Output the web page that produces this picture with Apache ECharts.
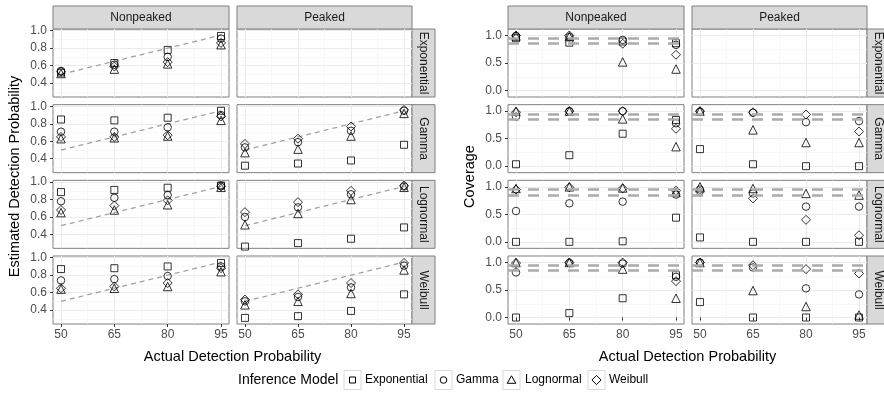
<!DOCTYPE html>
<html><head><meta charset="utf-8">
<script src="https://cdn.jsdelivr.net/npm/echarts@6/dist/echarts.min.js"></script>
<style>html,body{margin:0;padding:0;background:#fff}#c{width:884px;height:401px}</style>
</head><body><div id="c"></div>
<script>
// ---------- data ----------
const xValues = [50, 65, 80, 95];
const inferenceModels = ['Exponential', 'Gamma', 'Lognormal', 'Weibull'];
const columnLabels = ['Nonpeaked', 'Peaked'];
const rowLabels = ['Exponential', 'Gamma', 'Lognormal', 'Weibull'];
const estTicks = [0.4, 0.6, 0.8, 1.0];
const estMinorTicks = [0.3, 0.5, 0.7, 0.9];
const covTicks = [0, 0.5, 1.0];
const covMinorTicks = [0.25, 0.75];
const xMinorTicks = [57.5, 72.5, 87.5];
const identityLine = [[50, 0.5], [95, 0.95]];
const coverageRefLines = [0.95, 0.85];

// Estimated detection probability; rows = inference model (Exponential, Gamma, Lognormal, Weibull)
const est_Nonpeaked_Exponential = [
  [0.52, 0.63, 0.78, 0.94],
  [0.54, 0.61, 0.70, 0.91],
  [0.51, 0.56, 0.62, 0.84],
  [0.53, 0.59, 0.64, 0.86]
];
const est_Nonpeaked_Gamma = [
  [0.85, 0.84, 0.87, 0.95],
  [0.71, 0.71, 0.76, 0.90],
  [0.63, 0.64, 0.66, 0.84],
  [0.65, 0.65, 0.67, 0.885]
];
const est_Nonpeaked_Lognormal = [
  [0.885, 0.91, 0.935, 0.96],
  [0.78, 0.82, 0.85, 0.96],
  [0.65, 0.68, 0.74, 0.94],
  [0.68, 0.73, 0.79, 0.95]
];
const est_Nonpeaked_Weibull = [
  [0.87, 0.88, 0.90, 0.94],
  [0.74, 0.755, 0.79, 0.90],
  [0.64, 0.65, 0.67, 0.84],
  [0.65, 0.67, 0.71, 0.88]
];
const est_Peaked_Gamma = [
  [0.32, 0.345, 0.38, 0.56],
  [0.53, 0.59, 0.72, 0.95],
  [0.47, 0.51, 0.66, 0.92],
  [0.57, 0.63, 0.77, 0.96]
];
const est_Peaked_Lognormal = [
  [0.26, 0.30, 0.35, 0.48],
  [0.60, 0.71, 0.86, 0.95],
  [0.51, 0.64, 0.80, 0.94],
  [0.655, 0.77, 0.90, 0.96]
];
const est_Peaked_Weibull = [
  [0.31, 0.33, 0.39, 0.58],
  [0.50, 0.55, 0.66, 0.91],
  [0.46, 0.50, 0.59, 0.86],
  [0.52, 0.58, 0.71, 0.94]
];

// Coverage
const cov_Nonpeaked_Exponential = [
  [0.95, 0.87, 0.89, 0.86],
  [0.99, 0.97, 0.92, 0.83],
  [0.99, 0.98, 0.52, 0.39],
  [1.0, 1.0, 0.85, 0.65]
];
const cov_Nonpeaked_Gamma = [
  [0.035, 0.20, 0.59, 0.84],
  [0.90, 1.0, 1.0, 0.78],
  [1.0, 1.0, 0.86, 0.355],
  [0.98, 1.0, 1.0, 0.68]
];
const cov_Nonpeaked_Lognormal = [
  [0.0, 0.0, 0.01, 0.44],
  [0.56, 0.70, 0.73, 0.86],
  [0.97, 1.0, 0.98, 0.90],
  [0.95, 0.99, 0.97, 0.93]
];
const cov_Nonpeaked_Weibull = [
  [0.0, 0.08, 0.35, 0.77],
  [0.82, 0.99, 0.98, 0.74],
  [1.0, 1.0, 0.88, 0.35],
  [0.99, 1.0, 1.0, 0.66]
];
const cov_Peaked_Gamma = [
  [0.31, 0.035, 0.0, 0.0],
  [0.99, 0.97, 0.80, 0.82],
  [1.0, 0.66, 0.43, 0.43],
  [1.0, 0.98, 0.94, 0.63]
];
const cov_Peaked_Lognormal = [
  [0.08, 0.0, 0.0, 0.0],
  [0.95, 0.88, 0.64, 0.64],
  [1.0, 0.97, 0.88, 0.85],
  [0.91, 0.79, 0.40, 0.12]
];
const cov_Peaked_Weibull = [
  [0.28, 0.0, 0.0, 0.0],
  [1.0, 0.91, 0.53, 0.42],
  [1.0, 0.49, 0.20, 0.045],
  [1.0, 0.95, 0.88, 0.80]
];

// panel lookup: [column][row]
const estPanels = [
  [est_Nonpeaked_Exponential, est_Nonpeaked_Gamma, est_Nonpeaked_Lognormal, est_Nonpeaked_Weibull],
  [null, est_Peaked_Gamma, est_Peaked_Lognormal, est_Peaked_Weibull]
];
const covPanels = [
  [cov_Nonpeaked_Exponential, cov_Nonpeaked_Gamma, cov_Nonpeaked_Lognormal, cov_Nonpeaked_Weibull],
  [null, cov_Peaked_Gamma, cov_Peaked_Lognormal, cov_Peaked_Weibull]
];

// ---------- layout / style ----------
const FONT = '"Liberation Sans", Arial, Helvetica, sans-serif';
const symbols = ['rect', 'circle', 'triangle', 'diamond'];
const symbolSizes = [7, 7.5, 8.5, 9];
const ROW_TOPS = [29, 104.67, 180.33, 256];
const ROW_H = 68;
const COL_W = [176, 175];
const STRIP_H = 23;
const STRIP_W = 23;

const plots = [
  { cols: [53, 237], yMin: 0.24, yMax: 1.02, ticks: estTicks, minor: estMinorTicks, panels: estPanels, kind: 'est' },
  { cols: [508, 692], yMin: -0.118, yMax: 1.118, ticks: covTicks, minor: covMinorTicks, panels: covPanels, kind: 'cov' }
];

const grids = [], xAxes = [], yAxes = [], series = [], graphics = [];
const hollow = { color: 'rgba(0,0,0,0)', borderColor: '#000', borderWidth: 1 };

plots.forEach(p => {
  p.cols.forEach((left, c) => {
    ROW_TOPS.forEach((top, r) => {
      const gi = grids.length;
      grids.push({ left: left, top: top, width: COL_W[c], height: ROW_H, show: true,
        backgroundColor: '#fff', borderColor: '#7f7f7f', borderWidth: 1, containLabel: false });
      const xi = xAxes.length;
      xAxes.push({ type: 'value', gridIndex: gi, min: 47.75, max: 97.25,
        axisLine: { show: false },
        axisTick: { show: r === 3, customValues: xValues, length: 3, lineStyle: { color: '#333', width: 1 } },
        axisLabel: { show: r === 3, customValues: xValues, margin: 5, fontSize: 12, color: '#4d4d4d', fontFamily: FONT },
        splitLine: { show: true, lineStyle: { color: '#ebebeb', width: 1 } } });
      xAxes.push({ type: 'value', gridIndex: gi, min: 47.75, max: 97.25,
        axisLine: { show: false }, axisTick: { show: false, customValues: xMinorTicks }, axisLabel: { show: false },
        splitLine: { show: true, lineStyle: { color: '#f4f4f4', width: 0.6 } } });
      const yi = yAxes.length;
      yAxes.push({ type: 'value', gridIndex: gi, min: p.yMin, max: p.yMax,
        axisLine: { show: false },
        axisTick: { show: c === 0, customValues: p.ticks, length: 3, lineStyle: { color: '#333', width: 1 } },
        axisLabel: { show: c === 0, customValues: p.ticks, margin: 6, fontSize: 12, color: '#4d4d4d', fontFamily: FONT,
          formatter: v => Number(v).toFixed(1) },
        splitLine: { show: true, lineStyle: { color: '#ebebeb', width: 1 } } });
      yAxes.push({ type: 'value', gridIndex: gi, min: p.yMin, max: p.yMax,
        axisLine: { show: false }, axisTick: { show: false, customValues: p.minor }, axisLabel: { show: false },
        splitLine: { show: true, lineStyle: { color: '#f4f4f4', width: 0.6 } } });

      const panel = p.panels[c][r];
      if (panel) {
        if (p.kind === 'est') {
          series.push({ type: 'line', xAxisIndex: xi, yAxisIndex: yi, data: identityLine, symbol: 'none',
            silent: true, z: 1, lineStyle: { color: '#a3a3a3', width: 1.3, type: [5, 4] } });
        } else {
          series.push({ type: 'scatter', xAxisIndex: xi, yAxisIndex: yi, data: [], silent: true, z: 1,
            markLine: { silent: true, symbol: ['none', 'none'], label: { show: false },
              lineStyle: { color: '#ababab', width: 2.6, type: [11, 9] },
              data: coverageRefLines.map(v => ({ yAxis: v })) } });
        }
        inferenceModels.forEach((m, k) => {
          series.push({ type: 'scatter', name: m, xAxisIndex: xi, yAxisIndex: yi, z: 3, silent: true,
            symbol: symbols[k], symbolSize: symbolSizes[k], itemStyle: hollow,
            data: xValues.map((x, j) => [x, panel[k][j]]) });
        });
      }
    });
    // top strip
    graphics.push({ type: 'rect', shape: { x: left, y: ROW_TOPS[0] - STRIP_H, width: COL_W[c], height: STRIP_H },
      style: { fill: '#d9d9d9', stroke: '#7f7f7f', lineWidth: 1 }, silent: true });
    graphics.push({ type: 'text', x: left + COL_W[c] / 2, y: ROW_TOPS[0] - STRIP_H / 2,
      style: { text: columnLabels[c], fill: '#1a1a1a', font: '12px ' + FONT, align: 'center', verticalAlign: 'middle' }, silent: true });
  });
  // right strips
  const rx = p.cols[1] + COL_W[1];
  ROW_TOPS.forEach((top, r) => {
    graphics.push({ type: 'rect', shape: { x: rx, y: top, width: STRIP_W, height: ROW_H },
      style: { fill: '#d9d9d9', stroke: '#7f7f7f', lineWidth: 1 }, silent: true });
    graphics.push({ type: 'text', x: rx + STRIP_W / 2, y: top + ROW_H / 2, rotation: -Math.PI / 2,
      style: { text: rowLabels[r], fill: '#1a1a1a', font: '12px ' + FONT, align: 'center', verticalAlign: 'middle' }, silent: true });
  });
});

// axis titles
function title(text, x, y, rot) {
  return { type: 'text', x: x, y: y, rotation: rot || 0,
    style: { text: text, fill: '#000', font: '14.5px ' + FONT, align: 'center', verticalAlign: 'middle' }, silent: true };
}
graphics.push(title('Actual Detection Probability', 232.5, 357));
graphics.push(title('Actual Detection Probability', 687.5, 357));
graphics.push(title('Estimated Detection Probability', 15, 176.5, Math.PI / 2));
graphics.push(title('Coverage', 470, 176.5, Math.PI / 2));

// legend
const legY = 380;
graphics.push({ type: 'text', x: 238, y: legY,
  style: { text: 'Inference Model', fill: '#000', font: '14px ' + FONT, align: 'left', verticalAlign: 'middle' }, silent: true });
const keyX = [344, 435, 503, 588];
const textX = [365, 456, 525, 609];
inferenceModels.forEach((m, k) => {
  const bx = keyX[k];
  graphics.push({ type: 'rect', shape: { x: bx, y: legY - 9.5, width: 17, height: 19 },
    style: { fill: '#fff', stroke: '#d9d9d9', lineWidth: 1 }, silent: true });
  const cx = bx + 8.5, cy = legY;
  let shape;
  if (k === 0) shape = { type: 'rect', shape: { x: cx - 3, y: cy - 3, width: 6, height: 6 } };
  else if (k === 1) shape = { type: 'circle', shape: { cx: cx, cy: cy, r: 3.3 } };
  else if (k === 2) shape = { type: 'polygon', shape: { points: [[cx, cy - 4.2], [cx + 4.3, cy + 3.3], [cx - 4.3, cy + 3.3]] } };
  else shape = { type: 'polygon', shape: { points: [[cx, cy - 4.6], [cx + 4.6, cy], [cx, cy + 4.6], [cx - 4.6, cy]] } };
  shape.style = { fill: 'none', stroke: '#000', lineWidth: 1 };
  shape.silent = true;
  graphics.push(shape);
  graphics.push({ type: 'text', x: textX[k], y: legY,
    style: { text: m, fill: '#000', font: '12px ' + FONT, align: 'left', verticalAlign: 'middle' }, silent: true });
});

const chart = echarts.init(document.getElementById('c'), null, { renderer: 'canvas' });
chart.setOption({
  animation: false,
  backgroundColor: '#fff',
  textStyle: { fontFamily: FONT },
  grid: grids,
  xAxis: xAxes,
  yAxis: yAxes,
  series: series,
  graphic: { elements: graphics }
});
</script>
</body></html>
